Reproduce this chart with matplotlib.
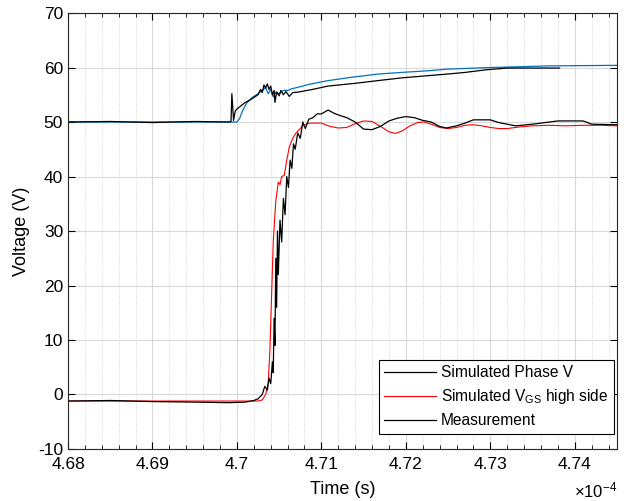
import numpy as np
import matplotlib
matplotlib.use("Agg")
import matplotlib.pyplot as plt
from matplotlib.lines import Line2D
from matplotlib.ticker import MultipleLocator, FuncFormatter

plt.rcParams['font.family'] = ['Liberation Sans', 'DejaVu Sans']
plt.rcParams['mathtext.fontset'] = 'custom'
plt.rcParams['mathtext.rm'] = 'Liberation Sans'
plt.rcParams['mathtext.it'] = 'Liberation Sans:italic'
plt.rcParams['axes.unicode_minus'] = False

# time in units of 1e-4 s
t_sim = [4.68, 4.6995, 4.7000, 4.7003, 4.7007, 4.7012, 4.7018, 4.7025, 4.7030, 4.7034,
         4.7037, 4.7040, 4.7043, 4.7046, 4.7050, 4.7055, 4.7060, 4.7065, 4.7073, 4.7085,
         4.7108, 4.7135, 4.7167, 4.7195, 4.7226, 4.7249, 4.7300, 4.7370, 4.7450]
v_sim = [50.0, 50.0, 50.0, 50.6, 52.2, 53.6, 54.5, 55.2, 55.8, 56.3,
         55.2, 56.0, 54.6, 55.5, 55.2, 55.8, 55.8, 56.1, 56.4, 56.9,
         57.6, 58.2, 58.8, 59.1, 59.4, 59.7, 60.0, 60.3, 60.4]

t_meas_hi = [4.6800, 4.6850, 4.6900, 4.6950, 4.6990, 4.6993, 4.6994, 4.6996, 4.6998, 4.7000,
             4.7005, 4.7010, 4.7015, 4.7020, 4.7025, 4.7028, 4.7030, 4.7032, 4.7034, 4.7036,
             4.7038, 4.7040, 4.7042, 4.7044, 4.7045, 4.7047, 4.7050, 4.7052, 4.7055, 4.7058,
             4.7062, 4.7066, 4.7073, 4.7090, 4.7108, 4.7140, 4.7167, 4.7195, 4.7226, 4.7249,
             4.7270, 4.7296, 4.7320, 4.7350, 4.7382]
v_meas_hi = [50.0, 50.1, 49.9, 50.1, 50.0, 50.1, 55.2, 50.3, 52.0, 52.4,
             53.0, 53.6, 54.0, 54.5, 55.0, 56.0, 55.4, 56.8, 56.2, 57.0,
             56.0, 56.6, 55.0, 55.8, 53.6, 55.5, 54.8, 55.8, 55.0, 55.6,
             54.7, 55.4, 55.5, 56.0, 56.6, 57.1, 57.6, 58.1, 58.5, 58.8,
             59.1, 59.6, 59.9, 59.9, 59.9]

t_meas_lo = [4.6800, 4.6850, 4.6900, 4.6950, 4.6990, 4.7010, 4.7020, 4.7025, 4.7030, 4.7033,
             4.7036, 4.7038, 4.7040, 4.7042, 4.7043, 4.7044, 4.7045, 4.7046, 4.7047, 4.7048,
             4.7049, 4.7051, 4.7053, 4.7055, 4.7057, 4.7059, 4.7061, 4.7063, 4.7065, 4.7067,
             4.7069, 4.7072, 4.7075, 4.7078, 4.7081, 4.7085, 4.7090, 4.7095, 4.7100, 4.7108,
             4.7115, 4.7122, 4.7130, 4.7140, 4.7150, 4.7160, 4.7170, 4.7180, 4.7190, 4.7200,
             4.7210, 4.7220, 4.7230, 4.7240, 4.7248, 4.7260, 4.7270, 4.7280, 4.7300, 4.7310,
             4.7330, 4.7350, 4.7370, 4.7380, 4.7410, 4.7420, 4.7450]
v_meas_lo = [-1.2, -1.1, -1.3, -1.4, -1.5, -1.4, -1.1, -0.8, 0.0, 1.5,
             0.8, 3.0, 2.0, 6.0, 4.0, 14.0, 9.0, 25.0, 16.0, 30.0,
             22.0, 32.0, 28.0, 36.0, 33.0, 40.0, 38.0, 43.0, 41.5, 46.0,
             45.0, 48.0, 47.0, 50.0, 48.8, 50.5, 50.8, 51.5, 51.5, 52.2,
             51.6, 51.2, 50.8, 50.0, 48.7, 48.6, 49.2, 50.2, 50.7, 51.0,
             50.8, 50.3, 50.0, 49.2, 48.9, 49.3, 49.8, 50.4, 50.4, 49.9,
             49.3, 49.6, 50.0, 50.2, 50.2, 49.6, 49.5]

t_vgs = [4.6800, 4.7025, 4.7030, 4.7034, 4.7037, 4.7039, 4.7041, 4.7043, 4.7046, 4.7049,
         4.7051, 4.7053, 4.7056, 4.7059, 4.7062, 4.7066, 4.7070, 4.7078, 4.7085, 4.7100,
         4.7110, 4.7120, 4.7130, 4.7140, 4.7150, 4.7160, 4.7170, 4.7180, 4.7188, 4.7196,
         4.7205, 4.7214, 4.7222, 4.7232, 4.7240, 4.7250, 4.7260, 4.7270, 4.7280, 4.7290,
         4.7300, 4.7310, 4.7320, 4.7335, 4.7350, 4.7370, 4.7390, 4.7410, 4.7430, 4.7450]
v_vgs = [-1.2, -1.2, -1.0, 0.0, 2.0, 8.0, 18.0, 28.0, 35.5, 39.0,
         38.5, 40.0, 40.2, 43.0, 45.4, 47.0, 48.0, 49.3, 49.8, 49.8,
         49.2, 48.9, 49.0, 49.7, 50.2, 50.1, 49.2, 48.2, 47.9, 48.4,
         49.3, 49.9, 50.0, 49.5, 49.0, 48.8, 49.0, 49.4, 49.5, 49.3,
         49.0, 48.8, 48.8, 49.1, 49.3, 49.4, 49.3, 49.4, 49.4, 49.3]

legend_labels = ['Simulated Phase V', r'Simulated V$_{\rm GS}$ high side', 'Measurement']

fig = plt.figure(figsize=(6.27, 5.01), dpi=100)
ax = fig.add_axes([0.1085, 0.1038, 0.8755, 0.8702])

ax.plot(t_sim, v_sim, color='#0072BD', lw=0.9)
ax.plot(t_vgs, v_vgs, color='red', lw=0.8)
ax.plot(t_meas_hi, v_meas_hi, color='black', lw=0.9)
ax.plot(t_meas_lo, v_meas_lo, color='black', lw=0.9)

ax.set_xlim(4.68, 4.745)
ax.set_ylim(-10, 70)
ax.xaxis.set_major_locator(MultipleLocator(0.01))
ax.xaxis.set_minor_locator(MultipleLocator(0.002))
ax.yaxis.set_major_locator(MultipleLocator(10))
ax.xaxis.set_major_formatter(FuncFormatter(lambda v, p: f'{v:g}'))

ax.grid(which='major', color='#d9d9d9', lw=0.8)
ax.grid(which='minor', axis='x', color='#cccccc', lw=0.6, ls=':')
ax.set_axisbelow(True)
ax.tick_params(which='both', direction='in', top=True, right=True, labelsize=12.5)
ax.tick_params(which='major', length=5)
ax.tick_params(which='minor', length=3)
ax.tick_params(axis='x', which='major', pad=6)
for s in ax.spines.values():
    s.set_color('#262626')
    s.set_linewidth(0.8)

ax.set_xlabel('Time (s)', fontsize=13, labelpad=6)
ax.set_ylabel('Voltage (V)', fontsize=13, labelpad=6)
ax.text(1.0, -0.094, r'$\times10^{-4}$', transform=ax.transAxes, ha='right', va='center', fontsize=12)

handles = [Line2D([], [], color='black', lw=0.9),
           Line2D([], [], color='red', lw=0.8),
           Line2D([], [], color='black', lw=0.9)]
leg = ax.legend(handles, legend_labels, loc='lower right', bbox_to_anchor=(0.9945, 0.035),
                borderaxespad=0, fontsize=11.2, fancybox=False, framealpha=1,
                edgecolor='black', handlelength=3.3, handletextpad=0.35,
                labelspacing=0.45, borderpad=0.35)
leg.get_frame().set_linewidth(0.8)

fig.savefig('out.png', dpi=100)
